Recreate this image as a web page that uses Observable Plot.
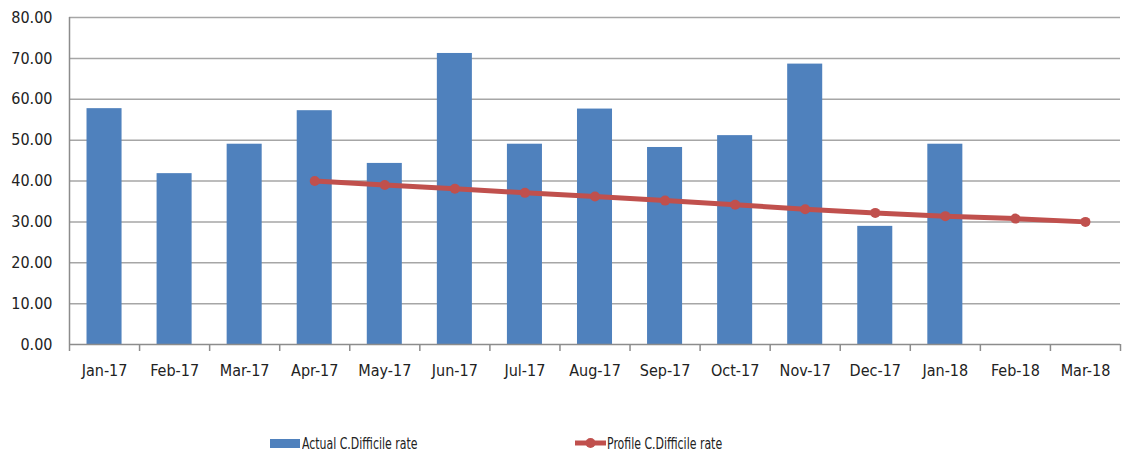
<!DOCTYPE html>
<html>
<head>
<meta charset="utf-8">
<script src="https://cdn.jsdelivr.net/npm/d3@7"></script>
<script src="https://cdn.jsdelivr.net/npm/@observablehq/plot@0.6"></script>
<style>
  html, body { margin: 0; padding: 0; background: #fff; }
  body { width: 1122px; height: 452px; position: relative; overflow: hidden;
         font-family: "DejaVu Sans Condensed", "Liberation Sans Narrow", sans-serif; }
  #chart { position: absolute; left: 0; top: 0; }
  #legend { position: absolute; left: 0; top: 433px; width: 1122px; height: 20px; font-size: 16px; color: #222; }
  .item { position: absolute; top: 0; display: flex; align-items: center; height: 20px; white-space: nowrap; }
  .sw-bar { width: 30px; height: 9px; background: #4f81bd; margin-right: 2px; flex: none; }
  .sw-line { width: 31px; height: 12px; margin-right: 1px; flex: none; }
  .lbl { display: inline-block; transform: scaleX(0.76); transform-origin: left center; }
</style>
</head>
<body>
<div id="chart"></div>
<div id="legend">
  <div class="item" style="left:270px"><span class="sw-bar"></span><span class="lbl">Actual C.Difficile rate</span></div>
  <div class="item" style="left:575px">
    <svg class="sw-line" width="31" height="12"><line x1="0" y1="6" x2="31" y2="6" stroke="#c0504d" stroke-width="5"/><circle cx="15.5" cy="6" r="5" fill="#c0504d"/></svg>
    <span class="lbl">Profile C.Difficile rate</span></div>
</div>
<script>
const months = ["Jan-17","Feb-17","Mar-17","Apr-17","May-17","Jun-17","Jul-17","Aug-17","Sep-17","Oct-17","Nov-17","Dec-17","Jan-18","Feb-18","Mar-18"];
const actual = [57.7, 41.8, 49.0, 57.2, 44.3, 71.2, 49.0, 57.6, 48.2, 51.1, 68.6, 28.9, 49.0, null, null];
const profile = [null, null, null, 40.0, 39.0, 38.1, 37.1, 36.2, 35.2, 34.2, 33.1, 32.2, 31.4, 30.8, 30.0];
const yTicks = [0, 10, 20, 30, 40, 50, 60, 70, 80];

const barData = months.map((m, i) => ({m, i, v: actual[i]})).filter(d => d.v != null);
const lineData = months.map((m, i) => ({m, i, v: profile[i]})).filter(d => d.v != null);

const W = 1122, H = 400;
const chart = Plot.plot({
  width: W,
  height: H,
  marginLeft: 69,
  marginRight: 2,
  marginTop: 17,
  marginBottom: H - 344,
  style: {fontFamily: '"DejaVu Sans Condensed", "Liberation Sans Narrow", sans-serif', fontSize: "16px", color: "#222", background: "#fff"},
  x: {domain: [0, months.length], axis: null},
  y: {domain: [0, 80], axis: null},
  marks: [
    Plot.ruleY(yTicks.filter(t => t > 0), {stroke: "#a6a6a6", strokeWidth: 1.5}),
    Plot.rectY(barData, {x1: d => d.i + 0.25, x2: d => d.i + 0.75, y1: 0, y2: "v", fill: "#4f81bd"}),
    Plot.ruleY([0], {stroke: "#8c8c8c", strokeWidth: 1.5}),
    Plot.ruleX([0], {stroke: "#8c8c8c", strokeWidth: 1.5}),
    Plot.axisX(d3.range(0, months.length + 1), {tickSize: 7, tickFormat: () => "", label: null, stroke: "#8c8c8c", strokeWidth: 1.5}),
    Plot.axisX(d3.range(0, months.length).map(i => i + 0.5), {tickSize: 0, tickPadding: 20, label: null, tickFormat: v => months[Math.floor(v)], fontSize: 16, fill: "#222"}),
    Plot.axisY(yTicks, {tickSize: 0, tickPadding: 17, label: null, tickFormat: d3.format(".2f"), fontSize: 16, fill: "#222"}),
    Plot.line(lineData, {x: d => d.i + 0.5, y: "v", stroke: "#c0504d", strokeWidth: 5, strokeLinejoin: "round"}),
    Plot.dot(lineData, {x: d => d.i + 0.5, y: "v", r: 5, fill: "#c0504d", stroke: "none"})
  ]
});
document.getElementById("chart").appendChild(chart);
</script>
</body>
</html>
